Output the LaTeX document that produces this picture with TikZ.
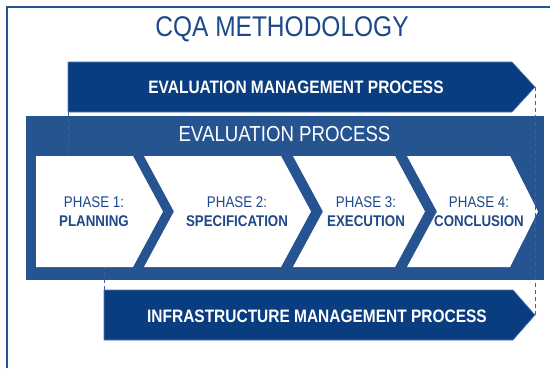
\documentclass[tikz,border=0pt]{standalone}
\usepackage{fontspec}
\setmainfont{Liberation Sans}[FakeStretch=0.86]
\usetikzlibrary{calc}

\definecolor{mgmtblue}{RGB}{10,61,127}
\definecolor{procblue}{RGB}{38,84,145}
\definecolor{phasetext}{RGB}{30,72,138}

\tikzset{
  mgmtarrow/.style={fill=mgmtblue, draw=procblue!80!white, line width=0.6pt},
  mgmtlabel/.style={text=white, font=\fontsize{18}{21}\selectfont\bfseries},
  phaselabel/.style={text=phasetext, align=center, font=\fontsize{15.5}{19}\selectfont},
  spanline/.style={draw=mgmtblue!80!white, line width=0.8pt, dash pattern=on 4pt off 3pt}
}

\begin{document}
\begin{tikzpicture}[x=1pt,y=-1pt]
\useasboundingbox (0,0) rectangle (550,368);

% evaluation management process
\coordinate (EM1) at (68,62);
\coordinate (EM2) at (512,62);
\coordinate (EMtip) at (535,87);
\coordinate (EM3) at (512,112);
\coordinate (EM4) at (68,112);
\coordinate (EMdrop) at (68,160);
% infrastructure management process
\coordinate (IM1) at (104,290);
\coordinate (IM2) at (513,290);
\coordinate (IMtip) at (535,315);
\coordinate (IM3) at (513,340);
\coordinate (IM4) at (104,340);
\coordinate (IMrise) at (104,262);

  % frame
  \draw[procblue, line width=1.2pt] (7,368) -- (7,7) -- (550,7);

  \fill[mgmtarrow] (EM1) -- (EM2) -- (EMtip) -- (EM3) -- (EM4) -- cycle;
  \fill[mgmtarrow] (IM1) -- (IM2) -- (IMtip) -- (IM3) -- (IM4) -- cycle;

  \fill[procblue] (26,116) rectangle (544,280);

  \draw[spanline] (EM4) -- (EMdrop);
  \draw[spanline] (IM1) -- (IMrise);

  % phases
  \fill[white] (36,156) -- (133,156) -- (163,211.5) -- (133,267) -- (36,267) -- cycle;
  \fill[white] (144,156) -- (281,156) -- (311,211.5) -- (281,267) -- (144,267) -- (174,211.5) -- cycle;
  \fill[white] (293,156) -- (395,156) -- (425,211.5) -- (395,267) -- (293,267) -- (323,211.5) -- cycle;
  \fill[white] (407,156) -- (510,156) -- (538,211.5) -- (510,267) -- (407,267) -- (437,211.5) -- cycle;

  \draw[spanline] (EMtip) -- (IMtip);

  \node[text=phasetext, font=\fontsize{28.5}{32}\selectfont] (title) at (282,29.3) {CQA METHODOLOGY};
  \node[mgmtlabel] (emlabel) at (296,87) {EVALUATION MANAGEMENT PROCESS};
  \node[mgmtlabel] (imlabel) at (317,316) {INFRASTRUCTURE MANAGEMENT PROCESS};
  \node[text=white, font=\fontsize{21.7}{25}\selectfont] (eplabel) at (284.5,134) {EVALUATION PROCESS};

  \node[phaselabel] (ph1) at (94,211.7) {PHASE 1:\\\textbf{PLANNING}};
  \node[phaselabel] (ph2) at (237,211.7) {PHASE 2:\\\textbf{SPECIFICATION}};
  \node[phaselabel] (ph3) at (366,211.7) {PHASE 3:\\\textbf{EXECUTION}};
  \node[phaselabel] (ph4) at (479,211.7) {PHASE 4:\\\textbf{CONCLUSION}};
\end{tikzpicture}
\end{document}
